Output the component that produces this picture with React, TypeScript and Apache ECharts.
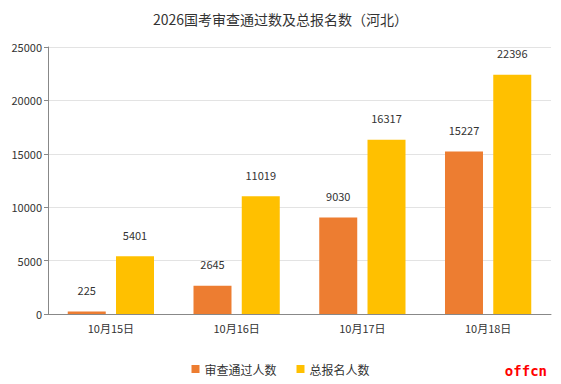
import React, { useEffect, useRef } from "react";
import * as echarts from "echarts";

const title = "2026国考审查通过数及总报名数（河北）";
const categories = ["10月15日", "10月16日", "10月17日", "10月18日"];
const passedName = "审查通过人数";
const totalName = "总报名人数";
const passed = [225, 2645, 9030, 15227];
const total = [5401, 11019, 16317, 22396];

export default function App() {
  const ref = useRef<HTMLDivElement>(null);
  useEffect(() => {
    const chart = echarts.init(ref.current!, null, { renderer: "svg" });
    const font = "'Microsoft YaHei', 'Noto Sans CJK SC', sans-serif";
    chart.setOption({
      animation: false,
      textStyle: { fontFamily: font },
      title: {
        text: title,
        left: "center",
        top: 7,
        textStyle: { fontSize: 14, fontWeight: "normal", color: "#333", fontFamily: font },
      },
      grid: { left: 48, right: 10, top: 47, bottom: 70, containLabel: false },
      legend: {
        bottom: 4,
        left: "center",
        itemWidth: 8,
        itemHeight: 8,
        itemGap: 20,
        icon: "rect",
        textStyle: { fontSize: 12, color: "#333", fontFamily: font },
        data: [passedName, totalName],
      },
      xAxis: {
        type: "category",
        data: categories,
        axisLine: { lineStyle: { color: "#888" } },
        axisTick: { alignWithLabel: true, length: 4, lineStyle: { color: "#888" } },
        axisLabel: { color: "#333", fontSize: 11, margin: 8, fontFamily: font },
      },
      yAxis: {
        type: "value",
        min: 0,
        max: 25000,
        interval: 5000,
        axisLine: { show: true, lineStyle: { color: "#888" } },
        axisTick: { show: true, length: 4, lineStyle: { color: "#888" } },
        axisLabel: {
          color: "#333",
          fontSize: 11,
          margin: 6,
          fontFamily: font,
          formatter: (v: number) => String(v),
        },
        splitLine: { lineStyle: { color: "#e3e3e3" } },
      },
      graphic: [
        {
          type: "text",
          right: 14,
          bottom: 6,
          style: {
            text: "offcn",
            fill: "#ff0000",
            fontSize: 14,
            fontWeight: "bold",
            fontFamily: "'DejaVu Sans Mono', monospace",
          },
        },
      ],
      series: [
        {
          name: passedName,
          type: "bar",
          data: passed,
          barWidth: 38,
          barGap: "27%",
          itemStyle: { color: "#ED7D31" },
          label: { show: true, position: "top", distance: 16, color: "#333", fontSize: 11 },
        },
        {
          name: totalName,
          type: "bar",
          data: total,
          barWidth: 38,
          itemStyle: { color: "#FFC000" },
          label: { show: true, position: "top", distance: 16, color: "#333", fontSize: 11 },
        },
      ],
    });
    return () => chart.dispose();
  }, []);
  return (
    <div
      ref={ref}
      style={{ position: "fixed", left: 0, top: 0, width: 561, height: 384, background: "#fff" }}
    />
  );
}
